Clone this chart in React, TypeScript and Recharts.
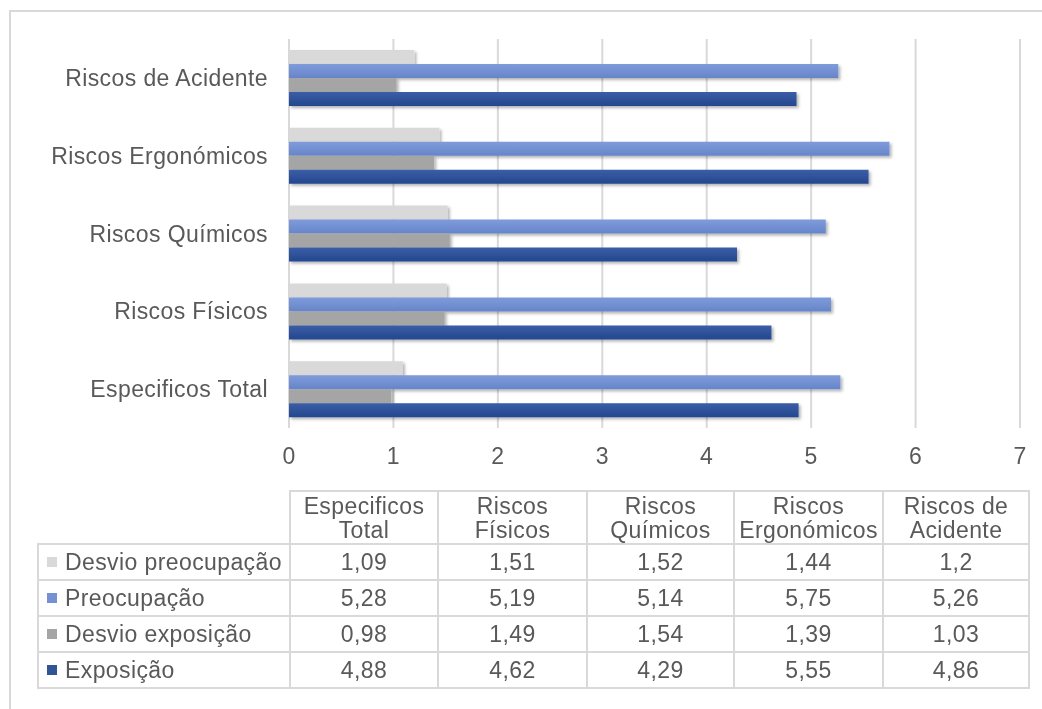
import React from 'react';
import { BarChart, Bar, XAxis, YAxis, CartesianGrid } from 'recharts';

const categories = ['Especificos Total', 'Riscos Físicos', 'Riscos Químicos', 'Riscos Ergonómicos', 'Riscos de Acidente'];
const headerLines = [['Especificos', 'Total'], ['Riscos', 'Físicos'], ['Riscos', 'Químicos'], ['Riscos', 'Ergonómicos'], ['Riscos de', 'Acidente']];
const desvioPreocupacao = [1.09, 1.51, 1.52, 1.44, 1.2];
const preocupacao = [5.28, 5.19, 5.14, 5.75, 5.26];
const desvioExposicao = [0.98, 1.49, 1.54, 1.39, 1.03];
const exposicao = [4.88, 4.62, 4.29, 5.55, 4.86];
const xTicks = [0, 1, 2, 3, 4, 5, 6, 7];

const series = [
  { key: 'dp', name: 'Desvio preocupação', values: desvioPreocupacao, color: '#d9d9d9', fill: '#d9d9d9' },
  { key: 'p', name: 'Preocupação', values: preocupacao, color: '#7391d3', fill: 'url(#gradP)' },
  { key: 'de', name: 'Desvio exposição', values: desvioExposicao, color: '#a5a5a5', fill: '#a5a5a5' },
  { key: 'e', name: 'Exposição', values: exposicao, color: '#2f5597', fill: 'url(#gradE)' },
];

// chart data: top-to-bottom order in the picture is the reverse of the table order
const chartData = categories
  .map((name, i) => {
    const row: Record<string, any> = { name };
    series.forEach((s) => (row[s.key] = s.values[i]));
    return row;
  })
  .reverse();

const TEXT = '#595959';
const LINE = '#d9d9d9';
const colX = [281, 429, 578, 725, 874, 1020];
const rowY = [482, 535, 571, 607, 643, 679];
const firstColLeft = 29;

const fmt = (v: number) => String(v).replace('.', ',');

export default function App() {
  const lines: React.ReactNode[] = [];
  lines.push(<div key="ht" style={{ position: 'absolute', left: colX[0], top: rowY[0], width: colX[5] - colX[0] + 2, height: 2, background: LINE }} />);
  for (let r = 1; r < rowY.length; r++) {
    lines.push(<div key={'h' + r} style={{ position: 'absolute', left: firstColLeft, top: rowY[r], width: colX[5] - firstColLeft + 2, height: 2, background: LINE }} />);
  }
  lines.push(<div key="v0" style={{ position: 'absolute', left: firstColLeft, top: rowY[1], width: 2, height: rowY[5] - rowY[1] + 2, background: LINE }} />);
  colX.forEach((x, i) => {
    lines.push(<div key={'v' + (i + 1)} style={{ position: 'absolute', left: x, top: rowY[0], width: 2, height: rowY[5] - rowY[0] + 2, background: LINE }} />);
  });

  const cells: React.ReactNode[] = [];
  headerLines.forEach((hl, c) => {
    cells.push(
      <div key={'hd' + c} style={{ position: 'absolute', left: colX[c] + 2, top: rowY[0] + 2, width: colX[c + 1] - colX[c] - 2, height: rowY[1] - rowY[0] - 2, display: 'flex', flexDirection: 'column', alignItems: 'center', justifyContent: 'center', lineHeight: '24px' }}>
        {hl.map((t, k) => (
          <div key={k} style={{ whiteSpace: 'nowrap' }}>{t}</div>
        ))}
      </div>
    );
  });
  series.forEach((s, r) => {
    const top = rowY[r + 1] + 2;
    const h = rowY[r + 2] - rowY[r + 1] - 2;
    cells.push(
      <div key={'lb' + r} style={{ position: 'absolute', left: firstColLeft + 2, top, width: colX[0] - firstColLeft - 2, height: h, display: 'flex', alignItems: 'center' }}>
        <div style={{ width: 10, height: 10, background: s.color, marginLeft: 8, marginRight: 8, flex: 'none' }} />
        <span style={{ whiteSpace: 'nowrap' }}>{s.name}</span>
      </div>
    );
    s.values.forEach((v, c) => {
      cells.push(
        <div key={'c' + r + '_' + c} style={{ position: 'absolute', left: colX[c] + 2, top, width: colX[c + 1] - colX[c] - 2, height: h, display: 'flex', alignItems: 'center', justifyContent: 'center' }}>
          {fmt(v)}
        </div>
      );
    });
  });

  return (
    <div style={{ position: 'relative', width: 1026, height: 690, fontFamily: '"Liberation Sans", Arial, sans-serif', color: TEXT, fontSize: 23, letterSpacing: '0.4px' }}>
      <div style={{ position: 'fixed', left: 9, top: 10, width: 1100, height: 800, borderTop: '2px solid #d9d9d9', borderLeft: '2px solid #d9d9d9', boxSizing: 'border-box' }} />
      <div style={{ position: 'absolute', left: 0, top: 0 }}>
        <BarChart width={1026} height={480} data={chartData} layout="vertical" margin={{ top: 31, right: 14, bottom: 20, left: 0 }} barCategoryGap={11} barGap={0}>
          <defs>
            <linearGradient id="gradP" x1="0" y1="0" x2="0" y2="1">
              <stop offset="0%" stopColor="#7f9bdb" />
              <stop offset="100%" stopColor="#6685c9" />
            </linearGradient>
            <linearGradient id="gradE" x1="0" y1="0" x2="0" y2="1">
              <stop offset="0%" stopColor="#3b5ea6" />
              <stop offset="100%" stopColor="#23478f" />
            </linearGradient>
            <filter id="shadow" x="-5%" y="-30%" width="110%" height="180%">
              <feDropShadow dx="2" dy="2" stdDeviation="1.5" floodColor="#000" floodOpacity="0.3" />
            </filter>
          </defs>
          <CartesianGrid horizontal={false} vertical={true} stroke={LINE} strokeWidth={2} />
          <XAxis type="number" domain={[0, 7]} ticks={xTicks} axisLine={false} tickLine={false} tickSize={0} tickMargin={20} height={40} tick={{ fill: TEXT, fontSize: 23 }} interval={0} />
          <YAxis type="category" dataKey="name" width={281} axisLine={false} tickLine={false} tickSize={0} tickMargin={21} tick={{ fill: TEXT, fontSize: 23 }} interval={0} />
          {series.map((s) => (
            <Bar key={s.key} dataKey={s.key} name={s.name} fill={s.fill} isAnimationActive={false} filter="url(#shadow)" />
          ))}
        </BarChart>
      </div>
      {lines}
      {cells}
    </div>
  );
}
